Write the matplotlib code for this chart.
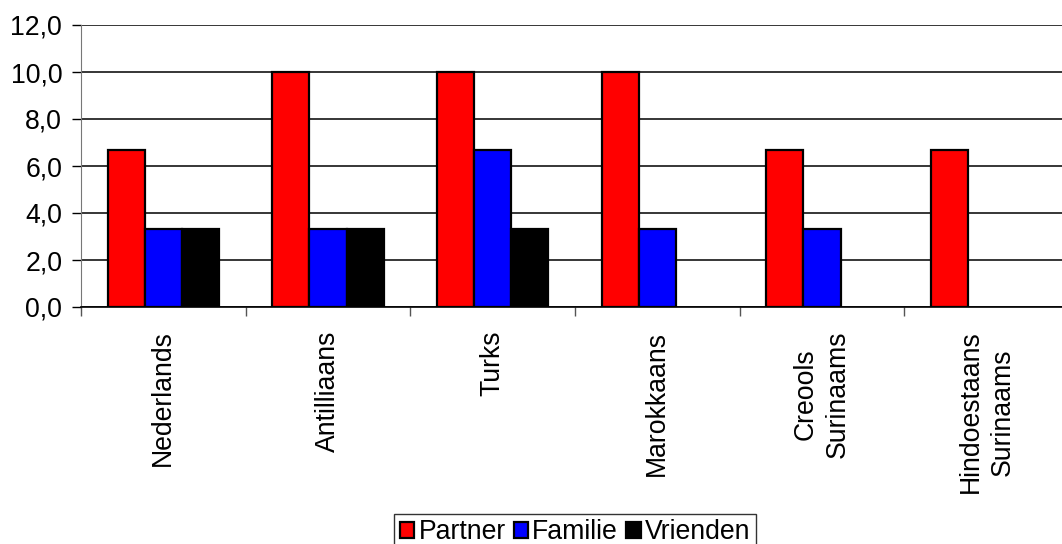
#!/usr/bin/env python3
"""Steun van partner, familie en vrienden per herkomstgroep."""
import numpy as np
import matplotlib
matplotlib.use("Agg")
import matplotlib.pyplot as plt
from matplotlib.ticker import FuncFormatter

groups = ["Nederlands", "Antilliaans", "Turks", "Marokkaans",
          "Creools\nSurinaams", "Hindoestaans\nSurinaams"]
series = ["Partner", "Familie", "Vrienden"]
partner = [6.67, 10.0, 10.0, 10.0, 6.67, 6.67]
familie = [3.33, 3.33, 6.67, 3.33, 3.33, 0.0]
vrienden = [3.33, 3.33, 3.33, 0.0, 0.0, 0.0]
colors = ["#ff0000", "#0000ff", "#000000"]
FS = 19.2


def main():
    plt.rcParams["font.family"] = ["Liberation Sans", "DejaVu Sans"]
    fig = plt.figure(figsize=(10.62, 5.44), dpi=100)
    # axes run a little past the right edge, like the original export
    ax = fig.add_axes([81 / 1062, 1 - 307 / 544, 988 / 1062, 282 / 544])

    x = np.arange(len(groups))
    w = 0.225
    for i, (name, vals) in enumerate(zip(series, [partner, familie, vrienden])):
        vals = np.asarray(vals)
        keep = vals > 0  # empty cells get no bar outline
        ax.bar(x[keep] + (i - 1) * w, vals[keep], w, color=colors[i],
               edgecolor="black", linewidth=1.6, label=name, zorder=3)

    ax.set_xlim(-0.5, len(groups) - 0.5)
    ax.set_ylim(0, 12)
    ax.set_yticks(np.arange(0, 12.1, 2))
    ax.yaxis.set_major_formatter(FuncFormatter(lambda v, _: f"{v:.1f}".replace(".", ",")))
    ax.yaxis.grid(True, color="black", linewidth=1.1, zorder=0)
    ax.tick_params(axis="y", length=6.5, width=1, pad=7, labelsize=FS)

    # category boundaries get the tick marks, centres get the labels
    ax.set_xticks(np.arange(-0.5, len(groups), 1.0))
    ax.set_xticklabels([])
    ax.set_xticks(x, minor=True)
    ax.set_xticklabels(groups, minor=True, rotation=90, ha="center",
                       va="top", multialignment="center", fontsize=FS,
                       linespacing=1.3)
    ax.tick_params(axis="x", which="major", length=6.5, width=1, color="#555555")
    ax.tick_params(axis="x", which="minor", length=0, pad=17)

    for s in ("top", "right"):
        ax.spines[s].set_visible(False)
    ax.spines["left"].set_color("#777777")
    ax.spines["bottom"].set_color("black")
    ax.spines["bottom"].set_linewidth(1.2)

    fig.legend(loc="upper center", bbox_to_anchor=(575 / 1062, 1 - 514 / 544),
               ncol=3, fontsize=FS, frameon=True, fancybox=False,
               edgecolor="#333333", framealpha=1, borderpad=0.2,
               handlelength=0.55, handleheight=0.55, handletextpad=0.15,
               columnspacing=0.3, borderaxespad=0)

    fig.savefig("out.png", dpi=100)
    print("wrote out.png")


if __name__ == "__main__":
    main()
